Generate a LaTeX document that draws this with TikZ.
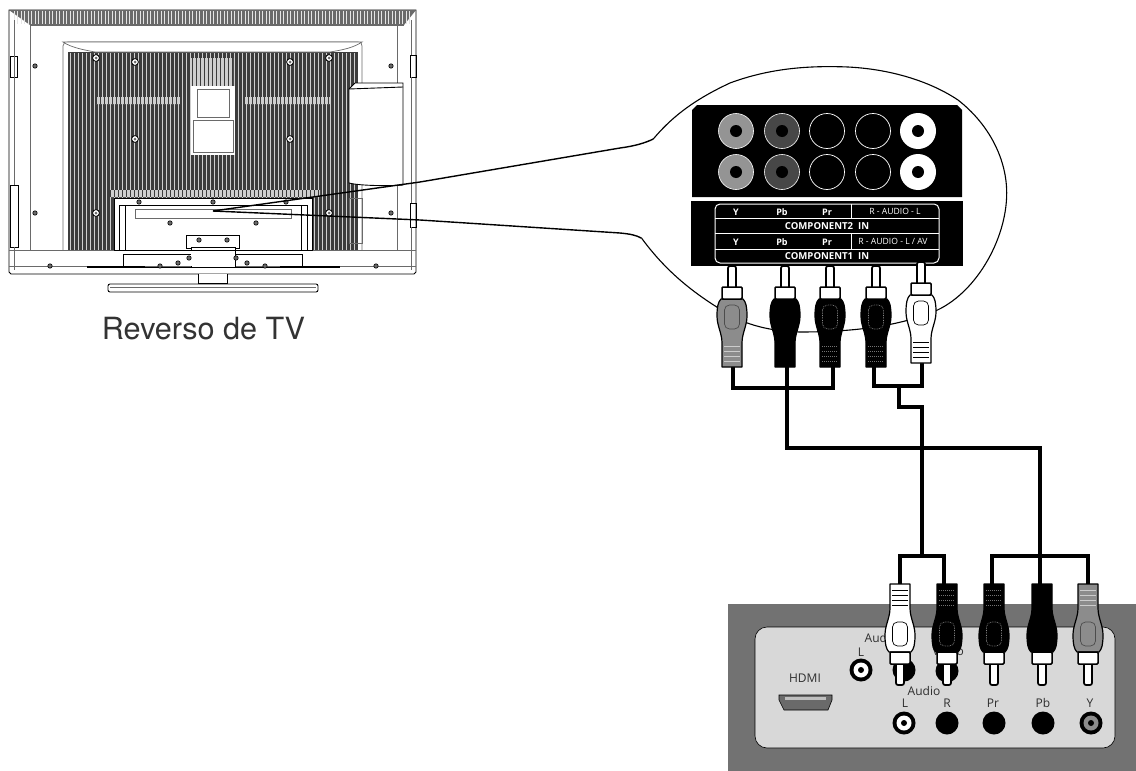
\documentclass[tikz,border=0pt]{standalone}
\usepackage{fontspec}
\setmainfont{Open Sans}
\newfontfamily\headfont{TeX Gyre Heros}
\usetikzlibrary{calc}
\definecolor{panelgray}{HTML}{727272}
\definecolor{panellight}{HTML}{D8D8D8}
\definecolor{plugray}{HTML}{8C8C8C}
\definecolor{ventdark}{HTML}{3C3C3C}
\definecolor{tvline}{HTML}{6A6A6A}
\definecolor{labeltext}{HTML}{2E2E2E}
\tikzset{
  tvedge/.style={draw=tvline,line width=.7pt},
  tvdark/.style={draw=black,line width=.9pt},
  callout/.style={draw=black,line width=1.4pt,line join=round},
  bubble/.style={draw=black,line width=1.1pt},
  cable/.style={draw=black,line width=4.5pt,line cap=butt,line join=miter},
  thincable/.style={draw=black,line width=3.8pt,line cap=butt,line join=miter},
  tabletext/.style={text=white,font=\fontsize{9}{10}\selectfont\bfseries,inner sep=0pt},
  tablehead/.style={text=white,font=\fontsize{9.6}{10}\selectfont\bfseries,inner sep=0pt},
  paneltext/.style={text=labeltext,font=\fontsize{12}{13}\selectfont,inner sep=0pt},
}
% x, y of pin tip, direction (1 down, -1 up), body colour, tail stripe colour, tail stripe style, detail colour, detail style
\newcommand{\rcaplugdraw}[7]{%
  \begin{scope}[shift={(#1,#2)},yscale=#3]
    \fill[white,draw=black,line width=1.7pt,rounded corners=2pt] (-4,0) rectangle (4,24);
    \fill[#4,draw=black,line width=1.2pt,line join=round]
      (-11,33) .. controls (-14,36) and (-15,41) .. (-15,50)
      .. controls (-15,60) and (-10,67) .. (-10,77) -- (-10,101) -- (10,101) -- (10,77)
      .. controls (10,67) and (15,60) .. (15,50)
      .. controls (15,41) and (14,36) .. (11,33) -- cycle;
    \fill[white,draw=black,line width=1.5pt,rounded corners=1pt] (-10,21) rectangle (10,33);
    \draw[#5,#6,line width=1pt] (-8,80) -- (8,80) (-8,85) -- (8,85) (-8,90) -- (8,90) (-8,95) -- (8,95);
    \draw[#7,line width=.7pt,rounded corners=5pt] (-7.5,39) rectangle (7.5,63);
  \end{scope}}
\newcommand{\tvscrew}[2]{\fill[white,draw=black,line width=.8pt] (#1,#2) circle (3.4);\fill[tvline] (#1,#2) circle (1.5);}
\newcommand{\tvbolt}[2]{\fill[tvline,draw=black,line width=.6pt] (#1,#2) circle (2.2);}
\begin{document}
\begin{tikzpicture}[x=1pt,y=-1pt]
\useasboundingbox (0,0) rectangle (1136,771);
\fill[white] (0,0) rectangle (1136,771);
% ---------- TV back
\fill[white,tvdark] (9,10) -- (416,10) -- (416,272) -- (414,274) -- (11,274) -- (9,272) -- cycle;
\fill[tvline] (9,10) -- (416,10) -- (404,25) -- (30,25) -- cycle;
\foreach \x in {14,17.5,...,412}{\draw[white!80!gray,line width=.9pt] (\x,11) -- (\x,24);}
\draw[tvedge] (30,25) -- (404,25) (30,25) -- (30,250) (397,25) -- (397,250) (9,250) -- (416,250) (9,266) -- (416,266);
\draw[tvedge] (63,250) -- (63,46) .. controls (63,43) and (65,42) .. (68,42) -- (358,42) .. controls (361,42) and (362,43) .. (362,46) -- (362,250);
% vents
\fill[ventdark] (68,52) -- (358,52) -- (358,250) -- (68,250) -- cycle;
\foreach \x in {70,74,...,356}{\draw[white!62!gray,line width=.9pt] (\x,53) -- (\x,250);}
\fill[white!62!gray] (96,97) rectangle (180,104) (245,97) rectangle (330,104) (190,58) rectangle (233,86) (110,190) rectangle (320,197);
\foreach \x in {96,100,...,330}{\draw[ventdark,line width=.8pt] (\x,97) -- (\x,104);}
\foreach \x in {110,114,...,320}{\draw[ventdark,line width=.8pt] (\x,190) -- (\x,197);}
\foreach \x in {192,196,...,232}{\draw[ventdark,line width=.8pt] (\x,58) -- (\x,86);}
\fill[white,tvedge] (63,42) .. controls (72,48) and (85,50) .. (95,52) -- (330,52) .. controls (342,50) and (353,48) .. (362,42) -- cycle;
% centre label
\fill[white] (191,86) rectangle (235,155);
\draw[tvedge] (197,89) rectangle (229,117) (193,120) rectangle (233,152);
% lower centre panel
\fill[white,tvdark] (114,198) rectangle (312,250);
\draw[tvdark] (119,205) -- (307,205) (119,205) -- (119,250) (307,205) -- (307,250) (125,205) -- (125,250) (301,205) -- (301,250);
\draw[tvedge] (135,209) rectangle (291,218);
\draw[tvdark] (186,235) rectangle (239,248);
\fill[white,tvdark] (191,267) -- (191,247) -- (235,247) -- (235,267);
\draw[tvdark] (123,254) rectangle (302,267) (123,250) -- (302,250);
\fill[white] (191,251) rectangle (235,266);
% right box
\fill[white,tvdark] (349,89) -- (349,183) .. controls (360,186) and (392,186) .. (403,185) -- (403,83) -- (355,83) -- cycle;
\draw[tvdark] (349,89) -- (403,87);
\draw[tvedge] (349,198) rectangle (362,243);
% side details
\draw[tvdark] (10,185) rectangle (18,247) (10,56) rectangle (17,77) (410,55) rectangle (416,77) (410,203) rectangle (416,227);
\draw[tvedge] (14,20) -- (14,185) (14,247) -- (14,270) (411,20) -- (411,55) (411,77) -- (411,203) (411,227) -- (411,270);
% vent bottom strips
\draw[black,line width=1.4pt] (87,267) -- (145,267) (280,267) -- (340,267);
% screws
\foreach \x/\y in {35/66,391/66,35/213,391/213}{\tvbolt{\x}{\y}}
\foreach \x/\y in {96/58,329/58,96/213,329/213,135/62,290/62,135/139,290/139}{\tvscrew{\x}{\y}}
\foreach \x/\y in {170/223,256/223,199/240,227/240,189/258,236/258,178/263,247/263,139/202,213/202,286/202,50/266,160/266,265/266,376/266}{\tvbolt{\x}{\y}}
% stand
\fill[white,tvdark] (198,274) -- (198,283) -- (227,283) -- (227,274);
\draw[tvedge] (212,284) -- (212,292);
\fill[white,tvdark,rounded corners=2pt] (108,284) rectangle (318,292);
\draw[tvedge] (110,287) -- (316,287);
\node[font=\headfont\fontsize{30.6}{36}\selectfont,text=black!80,inner sep=0pt,anchor=base] (tvlabel) at (203.5,339) {Reverso de TV};
% ---------- bubble
\coordinate (spot) at (213,211);
\coordinate (bubbletop) at (653.3,139);
\coordinate (bubblelow) at (641.7,238.3);
\draw[callout] (spot) -- (420,182) -- (620,148) .. controls (635,146) and (645,143) .. (bubbletop);
\draw[callout] (spot) -- (420,220) -- (620,233) .. controls (630,234) and (636,235) .. (bubblelow);
\draw[bubble] (bubbletop) .. controls (675,113) and (700,97) .. (730,83)
  .. controls (765,70) and (800,66) .. (837,66.7)
  .. controls (880,67) and (925,78) .. (958,100)
  .. controls (990,125) and (1006.7,160) .. (1006.7,193)
  .. controls (1006.7,240) and (975,295) .. (933,312)
  .. controls (895,327) and (850,332) .. (800,332)
  .. controls (760,331) and (735,320) .. (716.7,307)
  .. controls (690,290) and (665,270) .. (bubblelow);
% ---------- connector panel
\fill[black] (697,105) -- (957,105) -- (962,110) -- (962,197) -- (692,197) -- (692,110) -- cycle;
\fill[black] (691,201) rectangle (963,266);
\foreach \y in {131,172}{
  \fill[black!42,draw=white,line width=.6pt] (736,\y) circle (17.5);
  \fill[black] (736,\y) circle (6);
  \fill[black!72,draw=white,line width=.6pt] (782,\y) circle (17.5);
  \fill[black] (782,\y) circle (6);
  \draw[white,line width=.7pt] (827,\y) circle (17.5);
  \draw[white,line width=.7pt] (873,\y) circle (17.5);
  \fill[white] (918,\y) circle (18);
  \fill[black] (918,\y) circle (6);
}
\draw[white,line width=1pt,rounded corners=5pt] (715,204) rectangle (939,263);
\draw[white,line width=1pt] (715,218) -- (939,218) (715,233) -- (939,233) (715,249) -- (939,249) (851,204) -- (851,218) (851,233) -- (851,249);
\foreach \n/\x/\t in {ya/736/Y,pba/782/Pb,pra/827/Pr}{\node[tabletext] (\n) at (\x,212) {\t};}
\foreach \n/\x/\t in {yb/736/Y,pbb/782/Pb,prb/827/Pr}{\node[tabletext] (\n) at (\x,242) {\t};}
\node[tabletext,font=\fontsize{8.6}{10}\selectfont] (audioa) at (895,211.5) {R - AUDIO - L};
\node[tabletext,font=\fontsize{8.6}{10}\selectfont] (audiob) at (893,241.5) {R - AUDIO - L / AV};
\node[tablehead] (comptwo) at (827,226) {COMPONENT2\ \ IN};
\node[tablehead] (compone) at (827,256) {COMPONENT1\ \ IN};
% ---------- upper cables
\coordinate (ua) at (733,366);
\coordinate (ub) at (787,366);
\coordinate (uc) at (833,366);
\coordinate (ud) at (874,366);
\coordinate (ue) at (922,362);
\coordinate (bara) at (733,388);
\coordinate (barc) at (833,388);
\coordinate (bard) at (874,386);
\coordinate (bare) at (922,386);
\coordinate (audj) at (899,386);
\draw[thincable] (ua) -- (bara) -- (barc) -- (uc);
\draw[thincable] (ud) -- (bard) -- (bare) -- (ue);
\coordinate (lmainl) at (922,556);
\coordinate (lmainr) at (1040,556);
\draw[cable] (ub) -- (787,448) -- (1040,448) -- (lmainr);
\draw[cable] (audj) -- (899,407) -- (922,407) -- (lmainl);
% upper plugs
\rcaplugdraw{732}{266}{1}{plugray}{black!20}{solid}{black!70}{solid}
\rcaplugdraw{785}{266}{1}{black}{black}{solid}{black}{solid}
\rcaplugdraw{830}{266}{1}{black}{black!55}{densely dotted}{black!45,densely dotted}
\rcaplugdraw{876}{266}{1}{black}{black!55}{densely dotted}{black!45,densely dotted}
\rcaplugdraw{921}{262}{1}{white}{black}{solid}{black}{solid}
% ---------- lower panel
\fill[panelgray] (728,604) rectangle (1136,771);
\fill[panellight,draw=black,line width=.6pt,rounded corners=12pt] (755,627) rectangle (1115,748);
\node[paneltext] (audioup) at (881,638) {Audio};
\node[paneltext] (lup) at (861,652) {L};
\node[paneltext] (video) at (948,651) {Video};
\node[paneltext] (hdmi) at (805,678) {HDMI};
\node[paneltext] (audiolow) at (924,691) {Audio};
\node[paneltext] (llow) at (905,703) {L};
\node[paneltext] (rlow) at (947,703) {R};
\node[paneltext] (prlow) at (993,703) {Pr};
\node[paneltext] (pblow) at (1043,703) {Pb};
\node[paneltext] (ylow) at (1090,703) {Y};
\fill[tvline,draw=black,line width=.6pt] (779,695) -- (832,695) -- (832,700) -- (828,710) -- (784,710) -- (779,700) -- cycle;
\fill[black!25] (785,697) rectangle (826,700);
\foreach \x/\y in {861/670,904/723}{
  \fill[black] (\x,\y) circle (11.5);\fill[white] (\x,\y) circle (7.5);\fill[black] (\x,\y) circle (3);}
\foreach \x/\y in {904/670,947/671,947/723,994/723,1043/723}{\fill[black] (\x,\y) circle (11.5);}
\fill[black] (1091,723) circle (11.5);\fill[plugray] (1091,723) circle (7.5);\fill[black] (1091,723) circle (3);
% lower cables
\coordinate (la) at (900,585);
\coordinate (lb) at (944,585);
\coordinate (lc) at (992,585);
\coordinate (ld) at (1040,585);
\coordinate (le) at (1088,585);
\coordinate (busl) at (900,556);
\coordinate (busm) at (944,556);
\coordinate (busn) at (992,556);
\coordinate (busr) at (1088,556);
\draw[thincable] (la) -- (busl) -- (busm) -- (lb);
\draw[thincable] (lc) -- (busn) -- (busr) -- (le);
\draw[cable] (lmainr) -- (ld);
% lower plugs
\rcaplugdraw{900}{685}{-1}{white}{black}{solid}{black}{solid}
\rcaplugdraw{947}{685}{-1}{black}{black!55}{densely dotted}{black!45,densely dotted}
\rcaplugdraw{994}{685}{-1}{black}{black!55}{densely dotted}{black!45,densely dotted}
\rcaplugdraw{1042}{685}{-1}{black}{black}{solid}{black}{solid}
\rcaplugdraw{1088}{685}{-1}{plugray}{black!20}{solid}{black!70}{solid}
\end{tikzpicture}
\end{document}
